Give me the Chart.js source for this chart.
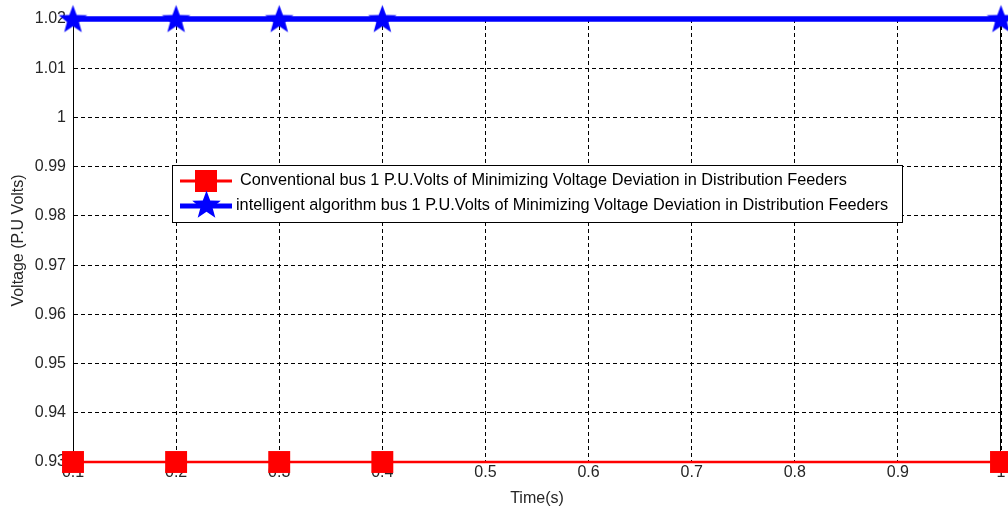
<!DOCTYPE html>
<html>
<head>
<meta charset="utf-8">
<script src="https://cdn.jsdelivr.net/npm/chart.js@4/dist/chart.umd.min.js"></script>
<style>
  html, body { margin: 0; padding: 0; background: #fff; }
  #wrap { width: 1008px; height: 512px; position: relative; }
</style>
</head>
<body>
<div id="wrap"><canvas id="chart"></canvas></div>
<script>
const timeSteps = [0.1, 0.2, 0.3, 0.4, 1.0];
const conventional = [0.93, 0.93, 0.93, 0.93, 0.93];
const intelligent = [1.02, 1.02, 1.02, 1.02, 1.02];
const seriesLabels = [
    'Conventional bus 1 P.U.Volts of Minimizing Voltage Deviation in Distribution Feeders',
    'intelligent algorithm bus 1 P.U.Volts of Minimizing Voltage Deviation in Distribution Feeders'
];

const FONT = '"Liberation Sans", Arial, sans-serif';

// filled five point star marker
function makeStar(size, color) {
    const c = document.createElement('canvas');
    c.width = size; c.height = size;
    const g = c.getContext('2d');
    const cx = size / 2, cy = size / 2 + 1;
    const outer = size / 2 - 0.5, inner = outer * 0.42;
    g.beginPath();
    for (let i = 0; i < 10; i++) {
        const r = i % 2 === 0 ? outer : inner;
        const a = -Math.PI / 2 + i * Math.PI / 5;
        g.lineTo(cx + r * Math.cos(a), cy + r * Math.sin(a));
    }
    g.closePath();
    g.fillStyle = color;
    g.fill();
    return c;
}
const star = makeStar(31, '#0000ff');

const pts = (ys) => timeSteps.map((x, i) => ({ x: x, y: ys[i] }));

const legendBox = {
    id: 'legendBox',
    afterDraw(chart) {
        const ctx = chart.ctx;
        const x0 = 172, y0 = 165, w = 730, h = 57;
        ctx.save();
        ctx.fillStyle = '#fff';
        ctx.fillRect(x0, y0, w, h);
        ctx.strokeStyle = '#000';
        ctx.lineWidth = 1;
        ctx.strokeRect(x0 + 0.5, y0 + 0.5, w, h);
        ctx.font = '16.3px ' + FONT;
        ctx.textBaseline = 'middle';
        // row 1: red line + square
        let yy = y0 + 16;
        ctx.strokeStyle = '#ff0000';
        ctx.lineWidth = 3;
        ctx.beginPath(); ctx.moveTo(180, yy); ctx.lineTo(232, yy); ctx.stroke();
        ctx.fillStyle = '#ff0000';
        ctx.fillRect(195, yy - 11, 22, 22);
        ctx.fillStyle = '#000';
        ctx.fillText(chart.data.datasets[0].label, 240, yy);
        // row 2: blue line + star
        yy = y0 + 41;
        ctx.strokeStyle = '#0000ff';
        ctx.lineWidth = 5;
        ctx.beginPath(); ctx.moveTo(180, yy); ctx.lineTo(232, yy); ctx.stroke();
        ctx.drawImage(star, 206 - 15, yy - 17);
        ctx.fillStyle = '#000';
        ctx.fillText(chart.data.datasets[1].label, 236, yy);
        ctx.restore();
    }
};

new Chart(document.getElementById('chart'), {
    type: 'line',
    data: {
        datasets: [{
            label: seriesLabels[0],
            data: pts(conventional),
            borderColor: '#ff0000',
            borderWidth: 2.5,
            pointStyle: 'rect',
            pointRadius: 15.5,
            pointBackgroundColor: '#ff0000',
            pointBorderColor: '#ff0000',
            pointBorderWidth: 0,
            clip: false
        }, {
            label: seriesLabels[1],
            data: pts(intelligent),
            borderColor: '#0000ff',
            borderWidth: 5.5,
            pointStyle: star,
            pointRadius: 15,
            clip: false
        }]
    },
    options: {
        responsive: true,
        maintainAspectRatio: false,
        animation: false,
        layout: { autoPadding: false, padding: { left: 0, right: 7, top: 19, bottom: 0 } },
        plugins: { legend: { display: false }, tooltip: { enabled: false } },
        scales: {
            x: {
                type: 'linear',
                min: 0.1,
                max: 1.0,
                afterFit(s) { s.height = 50; s.paddingLeft = 0; s.paddingRight = 0; },
                ticks: {
                    stepSize: 0.1,
                    color: '#262626',
                    font: { family: FONT, size: 16 },
                    padding: 1,
                    callback: v => String(Number(v.toFixed(2)))
                },
                grid: { color: '#000', drawTicks: false },
                border: { display: true, color: '#000', dash: [4, 3] },
                title: {
                    display: true,
                    text: 'Time(s)',
                    color: '#262626',
                    font: { family: FONT, size: 16 },
                    padding: { top: 0 }
                }
            },
            y: {
                min: 0.93,
                max: 1.02,
                afterFit(s) { s.width = 73; s.paddingTop = 0; s.paddingBottom = 0; },
                ticks: {
                    stepSize: 0.01,
                    color: '#262626',
                    font: { family: FONT, size: 16 },
                    padding: 7,
                    callback: v => String(Number(v.toFixed(2)))
                },
                grid: { color: '#000', drawTicks: false },
                border: { display: true, color: '#000', dash: [4, 3] },
                title: {
                    display: true,
                    text: 'Voltage (P.U Volts)',
                    color: '#262626',
                    font: { family: FONT, size: 16 },
                    padding: { top: 9, bottom: 0 }
                }
            }
        }
    },
    plugins: [legendBox, {
        id: 'frame',
        beforeDatasetsDraw(chart) {
            // solid axis box lines on left and right, like the reference
            const a = chart.chartArea, ctx = chart.ctx;
            ctx.save();
            ctx.strokeStyle = '#000';
            ctx.lineWidth = 1;
            ctx.beginPath();
            ctx.moveTo(a.left + 0.5, a.top); ctx.lineTo(a.left + 0.5, a.bottom);
            ctx.moveTo(a.right - 0.5, a.top); ctx.lineTo(a.right - 0.5, a.bottom);
            ctx.stroke();
            ctx.restore();
        }
    }]
});
</script>
</body>
</html>
